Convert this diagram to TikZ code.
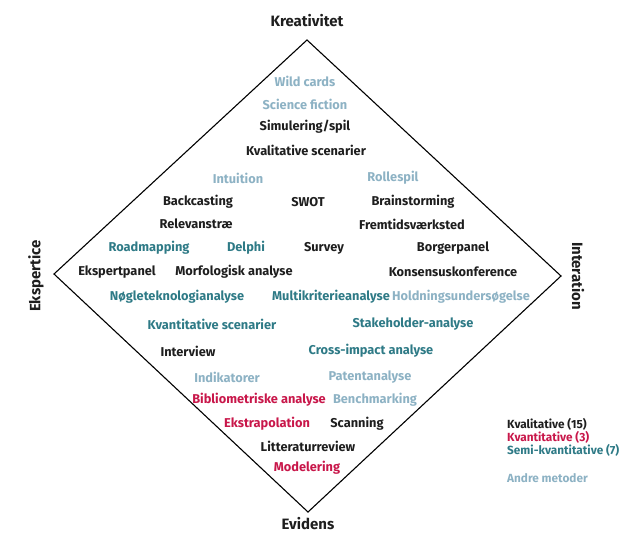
\documentclass[tikz,border=0pt]{standalone}
\usepackage{fontspec}
\setmainfont{Fira Sans}
\definecolor{kvalcol}{HTML}{1E1E1E}
\definecolor{kvantcol}{HTML}{C8174A}
\definecolor{semicol}{HTML}{2E7A86}
\definecolor{andrecol}{HTML}{8DB2C4}
\begin{document}
\begin{tikzpicture}[x=1pt, y=-1pt,
        kval/.style={text=kvalcol, font=\bfseries\fontsize{12.8}{14}\selectfont, inner sep=1pt},
        kvant/.style={kval, text=kvantcol},
        semi/.style={kval, text=semicol},
        andre/.style={kval, text=andrecol},
        axis/.style={text=kvalcol, font=\bfseries\fontsize{15}{17}\selectfont, inner sep=1pt},
        legend/.style={anchor=west, font=\bfseries\fontsize{11.8}{13}\selectfont, inner sep=0pt}]
    \useasboundingbox (0,0) rectangle (623,533);
    % The corners of the diamond.
        \coordinate (top) at (307,40);
        \coordinate (right) at (561,276);
        \coordinate (bottom) at (308,512);
        \coordinate (left) at (54,274);
        \draw[black, line width=1.1pt] (top) -- (right) -- (bottom) -- (left) -- cycle;
    % The four axis labels.
        \node[axis] (kreativitet) at (307,21) {Kreativitet};
        \node[axis, anchor=base] (evidens) at (308,529) {Evidens};
        \node[axis, rotate=90] (ekspertice) at (36,276) {Ekspertice};
        \node[axis, rotate=-90] (interation) at (578,276) {Interation};
    % Below nodes are the methods, top to bottom.
        \node[andre] (wildcards) at (305,81) {Wild cards};
        \node[andre] (sciencefiction) at (305,104) {Science fiction};
        \node[kval] (simulering) at (305,127) {Simulering/spil};
        \node[kval] (kvalscen) at (306,150) {Kvalitative scenarier};
        \node[andre] (intuition) at (238,178) {Intuition};
        \node[andre] (rollespil) at (393,178) {Rollespil};
        \node[kval] (backcasting) at (198,202) {Backcasting};
        \node[kval] (swot) at (308,202) {SWOT};
        \node[kval] (brainstorming) at (413,202) {Brainstorming};
        \node[kval] (relevanstrae) at (196,224) {Relevanstræ};
        \node[kval] (fremtid) at (412,224) {Fremtidsværksted};
        \node[semi] (roadmapping) at (149,248) {Roadmapping};
        \node[semi] (delphi) at (246,248) {Delphi};
        \node[kval] (survey) at (324,248) {Survey};
        \node[kval] (borgerpanel) at (453,248) {Borgerpanel};
        \node[kval] (ekspertpanel) at (117,272) {Ekspertpanel};
        \node[kval] (morfologisk) at (234,272) {Morfologisk analyse};
        \node[kval] (konsensus) at (453,272) {Konsensuskonference};
        \node[semi] (noegle) at (177,297) {Nøgleteknologianalyse};
        \node[semi] (multikrit) at (331,297) {Multikriterieanalyse};
        \node[andre] (holdning) at (461,297) {Holdningsundersøgelse};
        \node[semi] (kvantscen) at (212,324) {Kvantitative scenarier};
        \node[semi] (stakeholder) at (413,324) {Stakeholder-analyse};
        \node[kval] (interview) at (188,351) {Interview};
        \node[semi] (crossimpact) at (371,351) {Cross-impact analyse};
        \node[andre] (indikatorer) at (227,377) {Indikatorer};
        \node[andre] (patent) at (370,377) {Patentanalyse};
        \node[kvant] (bibliometri) at (259,400) {Bibliometriske analyse};
        \node[andre] (benchmarking) at (375,400) {Benchmarking};
        \node[kvant] (ekstrapolation) at (267,424) {Ekstrapolation};
        \node[kval] (scanning) at (357,424) {Scanning};
        \node[kval] (litteratur) at (308,446) {Litteraturreview};
        \node[kvant] (modelering) at (307,468) {Modelering};
    % The legend.
        \node[legend, text=kvalcol] (legkval) at (507,424) {Kvalitative (15)};
        \node[legend, text=kvantcol] (legkvant) at (507,437) {Kvantitative (3)};
        \node[legend, text=semicol] (legsemi) at (507,450) {Semi-kvantitative (7)};
        \node[legend, text=andrecol] (legandre) at (507,478) {Andre metoder};
\end{tikzpicture}
\end{document}
